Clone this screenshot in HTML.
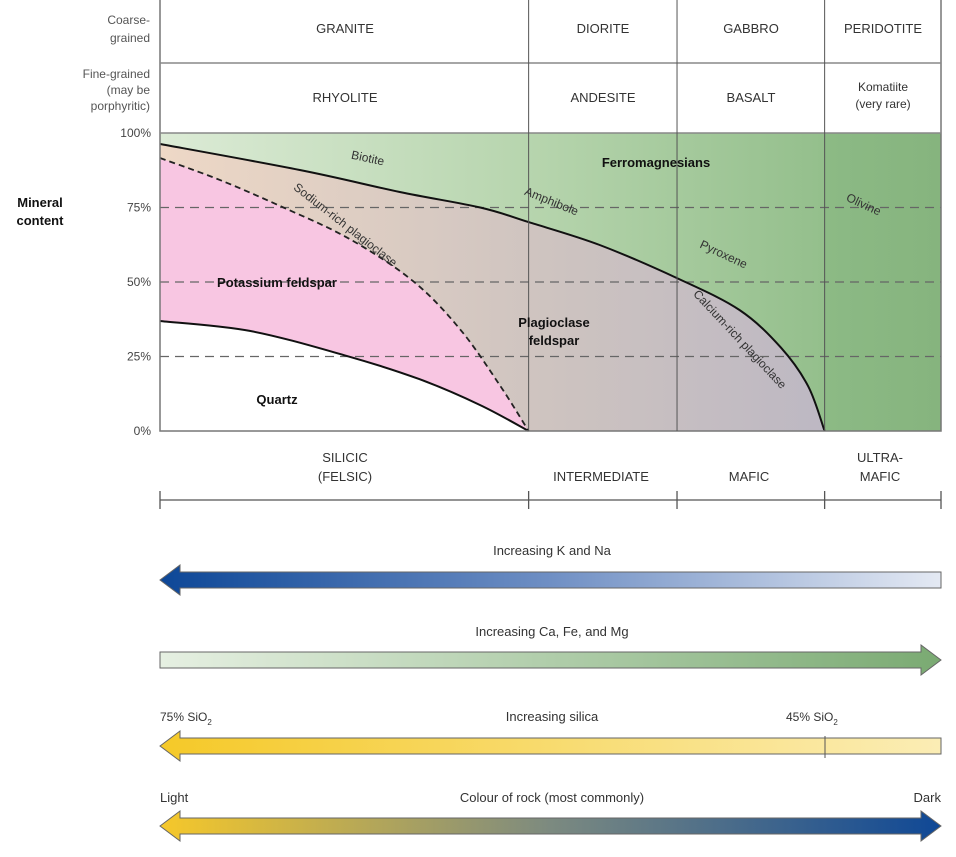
<!DOCTYPE html>
<html><head><meta charset="utf-8"><style>
html,body{margin:0;padding:0;background:#fff;width:956px;height:857px;overflow:hidden}
svg{display:block;font-family:"Liberation Sans",Arial,sans-serif}
</style></head><body>
<svg id="chart" width="956" height="857" viewBox="0 0 956 857">
<defs>
<linearGradient id="gFerro" x1="0" x2="1"><stop offset="0" stop-color="#dcebd6"/><stop offset="0.47" stop-color="#b7d5ae"/><stop offset="0.85" stop-color="#94bf8c"/><stop offset="0.851" stop-color="#8cba85"/><stop offset="1" stop-color="#86b47e"/></linearGradient>
<linearGradient id="gPlag" x1="0" x2="1"><stop offset="0" stop-color="#eed8c6"/><stop offset="0.6" stop-color="#cdc3c0"/><stop offset="1" stop-color="#bdb8c3"/></linearGradient>
<linearGradient id="gBlue" x1="0" x2="1"><stop offset="0" stop-color="#0d4797"/><stop offset="0.5" stop-color="#6f8fc4"/><stop offset="1" stop-color="#e4e9f3"/></linearGradient>
<linearGradient id="gGreen" x1="0" x2="1"><stop offset="0" stop-color="#e6f0e2"/><stop offset="1" stop-color="#7aaa72"/></linearGradient>
<linearGradient id="gYellow" x1="0" x2="1"><stop offset="0" stop-color="#f5c928"/><stop offset="1" stop-color="#fbedb5"/></linearGradient>
<linearGradient id="gColour" x1="0" x2="1"><stop offset="0" stop-color="#f6c82a"/><stop offset="0.5" stop-color="#7c8a80"/><stop offset="1" stop-color="#0f4896"/></linearGradient>
</defs>
<g id="plot"></g>
<g id="overlay"></g>
</svg>
<script>
// chart data: x = position across composition scale (0-100), y = mineral content (%)
const ferroX = [0,17.9,30.7,41,47.2,56.3,66.2,74.2,79.5,83.0,85.1];
const ferroY = [96.3,87.6,80.2,75,70.1,62.4,51.3,40.6,28.0,15.0,0];
const sodiumX = [0,7.7,15.8,24.3,32.4,38.4,43.5,47.2];
const sodiumY = [91.6,84.2,75,64.4,50.3,34.2,15.4,0];
const quartzX = [0,11.5,23.9,33.2,41,47.2];
const quartzY = [36.9,33.6,25.2,17.4,8.7,0];
const yTicks = [0,25,50,75,100];
const yTickLabels = ["0%","25%","50%","75%","100%"];
const dividerX = [47.2,66.2,85.1];
const classTicks = [0,47.2,66.2,85.1,100];

const NS="http://www.w3.org/2000/svg";
const L=160,R=941,T=133,B=431;
const sx=v=>L+(R-L)*v/100;
const sy=v=>B-(B-T)*v/100;
const plot=document.getElementById('plot');
const ov=document.getElementById('overlay');
function mk(tag,attrs,parent){const e=document.createElementNS(NS,tag);for(const k in attrs)e.setAttribute(k,attrs[k]);(parent||plot).appendChild(e);return e;}
function smooth(xs,ys){
 const p=xs.map((x,i)=>[sx(x),sy(ys[i])]);
 let d='M'+p[0][0].toFixed(1)+','+p[0][1].toFixed(1);
 for(let i=0;i<p.length-1;i++){
  const p0=p[i-1]||p[i],p1=p[i],p2=p[i+1],p3=p[i+2]||p2;
  const c1=[p1[0]+(p2[0]-p0[0])/6,p1[1]+(p2[1]-p0[1])/6];
  const c2=[p2[0]-(p3[0]-p1[0])/6,p2[1]-(p3[1]-p1[1])/6];
  d+=' C'+c1.map(v=>v.toFixed(1)).join(',')+' '+c2.map(v=>v.toFixed(1)).join(',')+' '+p2.map(v=>v.toFixed(1)).join(',');
 }
 return d;
}
function area(xs,ys){return smooth(xs,ys)+' L'+sx(0)+','+B+' Z';}

let e=mk('rect',{x:L,y:T,width:R-L,height:B-T,fill:'url(#gFerro)'});


e=mk('path',{d:area(ferroX,ferroY),fill:'url(#gPlag)'});


e=mk('path',{d:area(sodiumX,sodiumY),fill:'#f8c6e2'});


e=mk('path',{d:area(quartzX,quartzY),fill:'#ffffff'});



[25,50,75].forEach(v=>{
 const g=mk('line',{x1:L,x2:R,y1:sy(v),y2:sy(v),stroke:'#666',"stroke-width":1.2,"stroke-dasharray":'9,6'});
 
 
});
e=mk('path',{d:smooth(ferroX,ferroY),fill:'none',stroke:'#111',"stroke-width":2});


e=mk('path',{d:smooth(sodiumX,sodiumY),fill:'none',stroke:'#222',"stroke-width":1.8,"stroke-dasharray":'6,4'});


e=mk('path',{d:smooth(quartzX,quartzY),fill:'none',stroke:'#111',"stroke-width":2});



e=mk('rect',{x:L,y:-2,width:R-L,height:B+2,fill:'none',stroke:'#777',"stroke-width":1.5});


[63,133].forEach(y=>{const l=mk('line',{x1:L,x2:R,y1:y,y2:y,stroke:'#888',"stroke-width":1.5});
 
 });
dividerX.forEach(v=>{const l=mk('line',{x1:sx(v),x2:sx(v),y1:0,y2:B,stroke:'#555',"stroke-width":1});
 
 });

yTicks.forEach((v,i)=>{const t=mk('text',{x:151,y:sy(v)+4,"text-anchor":'end',"font-size":12,fill:'#444'});
 t.textContent=yTickLabels[i];
 
 });

e=mk('line',{x1:L,x2:R,y1:500,y2:500,stroke:'#555',"stroke-width":1.3});


classTicks.forEach(v=>{const l=mk('line',{x1:sx(v),x2:sx(v),y1:491,y2:509,stroke:'#555',"stroke-width":1.3});
 
 });

function txt(s,x,y,size,opts){const t=mk('text',Object.assign({x:x,y:y,"font-size":size,"text-anchor":'middle',fill:'#333'},opts||{}),ov);t.textContent=s;return t;}
function named(t,n){return t;}

named(txt('Coarse-',150,24,12,{"text-anchor":'end',fill:'#555'}),'coarse-label');
named(txt('grained',150,42,12,{"text-anchor":'end',fill:'#555'}),'coarse-label-2');
named(txt('Fine-grained',150,78,12,{"text-anchor":'end',fill:'#555'}),'fine-label');
named(txt('(may be',150,94,12,{"text-anchor":'end',fill:'#555'}),'fine-label-2');
named(txt('porphyritic)',150,110,12,{"text-anchor":'end',fill:'#555'}),'fine-label-3');
named(txt('Mineral',40,207,13,{"font-weight":'bold',fill:'#111'}),'y-axis-title');
named(txt('content',40,225,13,{"font-weight":'bold',fill:'#111'}),'y-axis-title-2');

named(txt('GRANITE',345,33,13),'granite');
named(txt('DIORITE',603,33,13),'diorite');
named(txt('GABBRO',751,33,13),'gabbro');
named(txt('PERIDOTITE',883,33,13),'peridotite');
named(txt('RHYOLITE',345,102,13),'rhyolite');
named(txt('ANDESITE',603,102,13),'andesite');
named(txt('BASALT',751,102,13),'basalt');
named(txt('Komatiite',883,91,12),'komatiite');
named(txt('(very rare)',883,108,12),'komatiite-2');

named(txt('Ferromagnesians',656,167,13,{"font-weight":'bold',fill:'#111'}),'ferromagnesians-label');
named(txt('Potassium feldspar',277,287,13,{"font-weight":'bold',fill:'#111'}),'kfeldspar-label');
named(txt('Plagioclase',554,327,13,{"font-weight":'bold',fill:'#111'}),'plagioclase-label');
named(txt('feldspar',554,345,13,{"font-weight":'bold',fill:'#111'}),'plagioclase-label-2');
named(txt('Quartz',277,404,13,{"font-weight":'bold',fill:'#111'}),'quartz-label');
named(txt('Biotite',367,162,12,{transform:'rotate(12 367 162)'}),'biotite-label');
named(txt('Amphibole',550,205,12,{transform:'rotate(22 550 205)'}),'amphibole-label');
named(txt('Pyroxene',722,258,12,{transform:'rotate(25 722 258)'}),'pyroxene-label');
named(txt('Olivine',862,208,12,{transform:'rotate(25 862 208)'}),'olivine-label');
named(txt('Sodium-rich plagioclase',343,228,12,{transform:'rotate(38 343 228)'}),'sodium-plag-label');
named(txt('Calcium-rich plagioclase',737,342,12,{transform:'rotate(47 737 342)'}),'calcium-plag-label');

named(txt('SILICIC',345,462,13),'silicic');
named(txt('(FELSIC)',345,481,13),'felsic');
named(txt('INTERMEDIATE',601,481,13),'intermediate');
named(txt('MAFIC',749,481,13),'mafic');
named(txt('ULTRA-',880,462,13),'ultra');
named(txt('MAFIC',880,481,13),'ultramafic');

function arrow(y,dir,fill,name){
 const h=8,hw=15,hl=20;let p;
 if(dir==='left') p=[[160,y],[160+hl,y-hw],[160+hl,y-h],[941,y-h],[941,y+h],[160+hl,y+h],[160+hl,y+hw]];
 else if(dir==='right') p=[[941,y],[941-hl,y-hw],[941-hl,y-h],[160,y-h],[160,y+h],[941-hl,y+h],[941-hl,y+hw]];
 else p=[[160,y],[160+hl,y-hw],[160+hl,y-h],[941-hl,y-h],[941-hl,y-hw],[941,y],[941-hl,y+hw],[941-hl,y+h],[160+hl,y+h],[160+hl,y+hw]];
 const a=mk('polygon',{points:p.map(q=>q.join(',')).join(' '),fill:fill,stroke:'#666',"stroke-width":1},ov);
 
 
}
function sio(x,y,label,name){
 const t=mk('text',{x:x,y:y,"font-size":12,fill:'#333'},ov);
 t.textContent=label;
 const s=document.createElementNS(NS,'tspan');
 s.setAttribute('font-size','8');s.setAttribute('dy','4');s.textContent='2';
 t.appendChild(s);
 
 
}
named(txt('Increasing K and Na',552,555,13),'kna-label');
arrow(580,'left','url(#gBlue)','kna-arrow');
named(txt('Increasing Ca, Fe, and Mg',552,636,13),'cafemg-label');
arrow(660,'right','url(#gGreen)','cafemg-arrow');
sio(160,721,'75% SiO','sio2-75-label');
named(txt('Increasing silica',552,721,13),'silica-label');
sio(786,721,'45% SiO','sio2-45-label');
arrow(746,'left','url(#gYellow)','silica-arrow');
e=mk('line',{x1:825,x2:825,y1:736,y2:758,stroke:'#555',"stroke-width":1},ov);


named(txt('Light',160,802,13,{"text-anchor":'start'}),'light-label');
named(txt('Colour of rock (most commonly)',552,802,13),'colour-label');
named(txt('Dark',941,802,13,{"text-anchor":'end'}),'dark-label');
arrow(826,'both','url(#gColour)','colour-arrow');
</script>
</body></html>
